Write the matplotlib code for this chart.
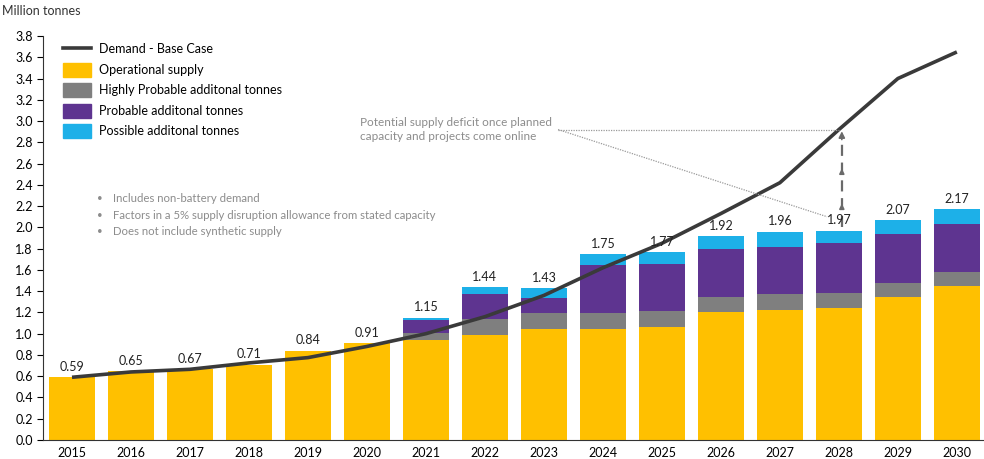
import matplotlib
matplotlib.use("Agg")
import matplotlib.pyplot as plt
import numpy as np
from matplotlib.patches import Patch
from matplotlib.lines import Line2D

plt.rcParams['font.family'] = ['Lato', 'DejaVu Sans']

# data
years = [str(y) for y in range(2015, 2031)]
operational = [0.59, 0.65, 0.67, 0.71, 0.84, 0.91, 0.94, 0.99, 1.04, 1.04, 1.06, 1.20, 1.22, 1.24, 1.345, 1.445]
highly_probable = [0, 0, 0, 0, 0, 0, 0.07, 0.145, 0.15, 0.15, 0.15, 0.145, 0.15, 0.14, 0.13, 0.135]
probable = [0, 0, 0, 0, 0, 0, 0.12, 0.235, 0.15, 0.46, 0.45, 0.455, 0.45, 0.47, 0.46, 0.455]
possible = [0, 0, 0, 0, 0, 0, 0.02, 0.07, 0.09, 0.10, 0.11, 0.12, 0.14, 0.12, 0.135, 0.135]
demand = [0.59, 0.64, 0.665, 0.725, 0.775, 0.88, 1.0, 1.16, 1.36, 1.62, 1.85, 2.13, 2.42, 2.92, 3.40, 3.65]

notes = ["Includes non-battery demand",
         "Factors in a 5% supply disruption allowance from stated capacity",
         "Does not include synthetic supply"]

c_yellow = "#FFC000"
c_gray = "#7F7F7F"
c_purple = "#5E3490"
c_cyan = "#1DB0E8"
c_line = "#3A3A3A"
c_note = "#8C8C8C"

fig = plt.figure(figsize=(9.84, 4.59), dpi=100)
ax = fig.add_axes([42.5/984, 19/459, (984-42.5)/984, (440-36)/459])

x = np.arange(len(years))
w = 0.78
op = np.array(operational)
hp = np.array(highly_probable)
pr = np.array(probable)
ps = np.array(possible)

ax.bar(x, op, w, color=c_yellow, zorder=2)
ax.bar(x, hp, w, bottom=op, color=c_gray, zorder=2)
ax.bar(x, pr, w, bottom=op+hp, color=c_purple, zorder=2)
ax.bar(x, ps, w, bottom=op+hp+pr, color=c_cyan, zorder=2)

totals = op + hp + pr + ps
for xi, t in zip(x, totals):
    ax.text(xi, t + 0.04, f"{t:.2f}", ha="center", va="bottom", fontsize=9, color="#222222", zorder=4)

ax.plot(x, demand, color=c_line, lw=2.6, zorder=3, solid_capstyle="butt")

# annotation
ax.text(4.88, 2.92, "Potential supply deficit once planned\ncapacity and projects come online",
        ha="left", va="center", fontsize=8.5, color=c_note, linespacing=1.35)
ax.plot([8.24, 13.0], [2.92, 2.92], color="#9a9a9a", lw=0.9, ls=(0, (1, 1)), zorder=3)
ax.plot([8.24, 12.8], [2.92, 2.10], color="#9a9a9a", lw=0.9, ls=(0, (1, 1)), zorder=3)
ax.plot([13.05, 13.05], [2.0, 2.86], color="#6a6a6a", lw=1.6, ls=(0, (5, 3)), zorder=3)
ax.annotate("", xy=(13.05, 2.93), xytext=(13.05, 2.80),
            arrowprops=dict(arrowstyle="-|>", color="#6a6a6a", lw=1.2, mutation_scale=9))
ax.annotate("", xy=(13.05, 2.58), xytext=(13.05, 2.48),
            arrowprops=dict(arrowstyle="-|>", color="#6a6a6a", lw=1.2, mutation_scale=7))
ax.annotate("", xy=(13.05, 2.25), xytext=(13.05, 2.15),
            arrowprops=dict(arrowstyle="-|>", color="#6a6a6a", lw=1.2, mutation_scale=7))

# notes
for i, n in enumerate(notes):
    yv = 2.27 - i * 0.155
    ax.text(0.42, yv, "\u2022", ha="left", va="center", fontsize=7, color=c_note)
    ax.text(0.69, yv, n, ha="left", va="center", fontsize=8.2, color=c_note)

# legend
handles = [Line2D([0], [0], color=c_line, lw=2.6),
           Patch(color=c_yellow), Patch(color=c_gray), Patch(color=c_purple), Patch(color=c_cyan)]
labels = ["Demand - Base Case", "Operational supply", "Highly Probable additonal tonnes",
          "Probable additonal tonnes", "Possible additonal tonnes"]
ax.legend(handles, labels, loc="upper left", bbox_to_anchor=(0.01, 1.012), frameon=False,
          fontsize=9, handlelength=2.2, handleheight=1.3, labelspacing=0.55, handletextpad=0.7)

ax.set_xlim(-0.5, 15.46)
ax.set_ylim(0, 3.8)
ax.set_yticks(np.arange(0, 3.81, 0.2))
ax.set_yticklabels([f"{v:.1f}" for v in np.arange(0, 3.81, 0.2)], fontsize=9)
ax.set_xticks(x)
ax.set_xticklabels(years, fontsize=9)
ax.tick_params(axis="x", length=0, pad=5)
ax.tick_params(axis="y", length=4, direction="out", pad=3)
for s in ["top", "right"]:
    ax.spines[s].set_visible(False)
ax.spines["left"].set_color("#333333")
ax.spines["bottom"].set_color("#333333")

fig.text(0.002, 0.975, "Million tonnes", ha="left", va="center", fontsize=9, color="#333333")

fig.savefig("out.png", dpi=100)
